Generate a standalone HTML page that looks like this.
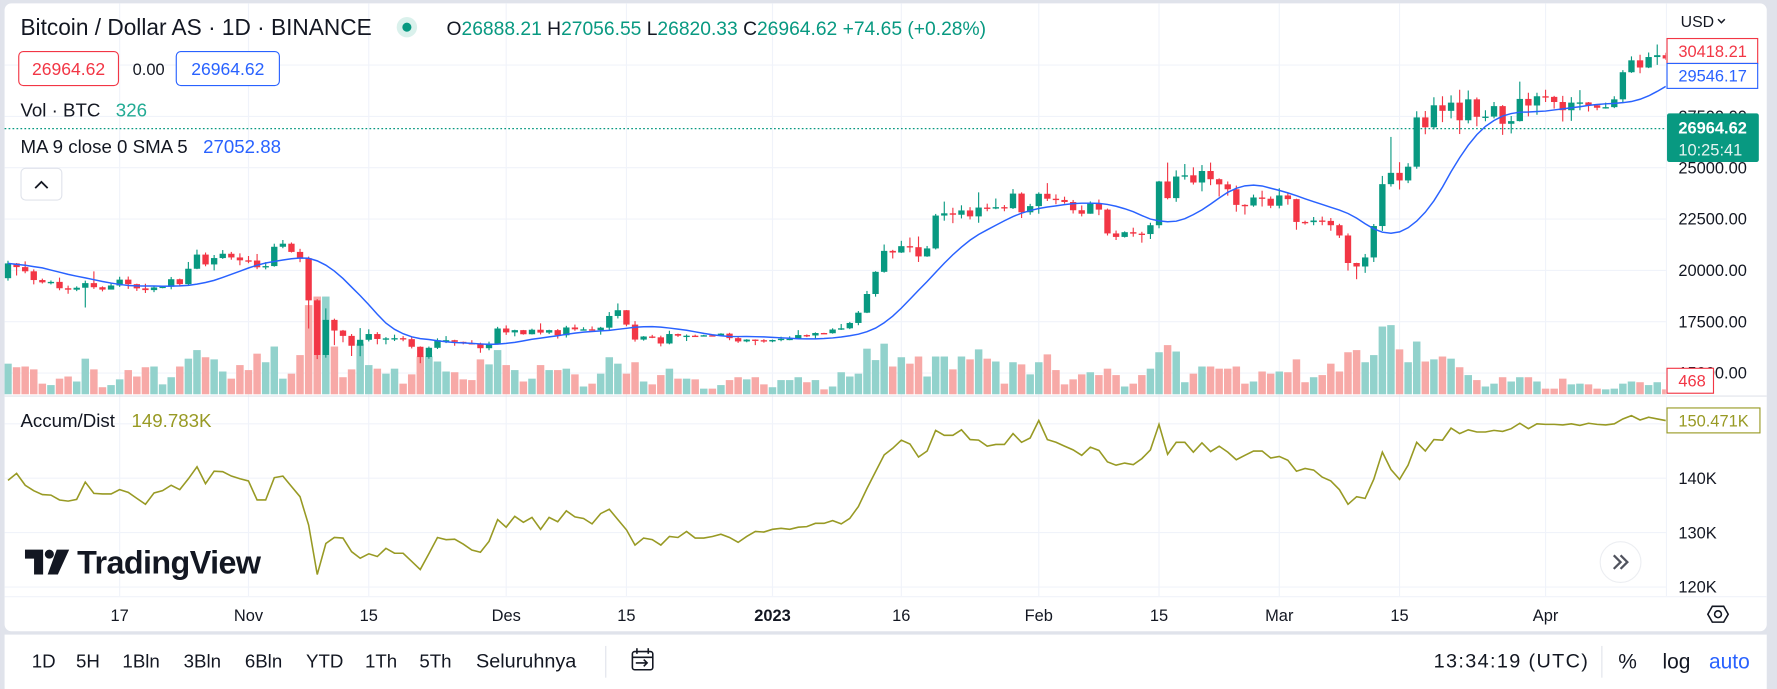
<!DOCTYPE html>
<html><head><meta charset="utf-8">
<style>
html,body{margin:0;padding:0;background:#e0e3eb;overflow:hidden}
svg{display:block}
text{font-family:"Liberation Sans",sans-serif}
</style></head>
<body>
<svg id="chart" width="1777" height="689" viewBox="0 0 1568 608" xmlns="http://www.w3.org/2000/svg">
<rect x="0" y="0" width="1568" height="608" fill="#e0e3eb"/>
<rect x="4" y="3" width="1555" height="554" rx="6" fill="#ffffff"/>
<rect x="4" y="560" width="1555" height="48" fill="#ffffff"/>
<g id="grid"></g>
<g id="volumes"></g>
<g id="candles"></g>
<g id="maline"></g>
<g id="adline"></g>
<line x1="4" y1="349.5" x2="1559" y2="349.5" stroke="#e0e3eb" stroke-width="1"/>
<line x1="1470.5" y1="3" x2="1470.5" y2="526" stroke="#f0f3fa" stroke-width="1"/>
<line x1="4" y1="526.5" x2="1559" y2="526.5" stroke="#f0f3fa" stroke-width="1"/>
<line x1="4" y1="113.5" x2="1470" y2="113.5" stroke="#089981" stroke-width="1" stroke-dasharray="1.5,2"/>
<g id="yaxis"></g>
<g id="adaxis"></g>
<g id="xaxis"></g>

<!-- header -->
<text x="18" y="31" font-size="20" fill="#131722">Bitcoin / Dollar AS · 1D · BINANCE</text>
<circle cx="359" cy="24" r="9" fill="#daf1ec"/>
<circle cx="359" cy="24" r="4" fill="#089981"/>
<text x="394" y="31" font-size="17" fill="#131722">O<tspan fill="#089981">26888.21</tspan> H<tspan fill="#089981">27056.55</tspan> L<tspan fill="#089981">26820.33</tspan> C<tspan fill="#089981">26964.62 +74.65 (+0.28%)</tspan></text>
<rect x="16.5" y="45.5" width="88" height="30" rx="4" fill="#fff" stroke="#f23645"/>
<text x="60.5" y="66" font-size="15.5" fill="#f23645" text-anchor="middle">26964.62</text>
<text x="117" y="66" font-size="14.5" fill="#131722">0.00</text>
<rect x="155.5" y="45.5" width="91" height="30" rx="4" fill="#fff" stroke="#2962ff"/>
<text x="201" y="66" font-size="15.5" fill="#2962ff" text-anchor="middle">26964.62</text>
<text x="18" y="103" font-size="16.5" fill="#131722">Vol · BTC <tspan dx="9" fill="#22ab94">326</tspan></text>
<text x="18" y="135" font-size="16.5" fill="#131722">MA 9 close 0 SMA 5 <tspan dx="9" fill="#2962ff">27052.88</tspan></text>
<rect x="18.5" y="148.5" width="36" height="28" rx="4" fill="#fff" stroke="#e0e3eb"/>
<path d="M31 166 L36.5 160.5 L42 166" fill="none" stroke="#131722" stroke-width="1.6"/>
<text x="18" y="377" font-size="16.5" fill="#131722">Accum/Dist <tspan dx="10" fill="#989a24">149.783K</tspan></text>

<!-- logo -->
<g>
<path d="M22 485 H38 V507 H30 V493 H22 Z" fill="#131722"/>
<circle cx="43.5" cy="489" r="4" fill="#131722"/>
<path d="M50 485 H61 L51 507 H42 Z" fill="#131722"/>
<text x="68" y="506" font-size="28.5" font-weight="bold" fill="#131722" letter-spacing="-0.5">TradingView</text>
</g>

<!-- right axis widgets -->
<text x="1483" y="24" font-size="14" fill="#131722">USD</text>
<path d="M1516 17 L1519 20 L1522 17" fill="none" stroke="#131722" stroke-width="1.3"/>
<rect x="1471" y="34" width="80" height="22" fill="#fff" stroke="#f23645"/>
<text x="1481" y="50.5" font-size="14.5" fill="#f23645">30418.21</text>
<rect x="1471" y="56" width="80" height="22" fill="#fff" stroke="#2962ff"/>
<text x="1481" y="72" font-size="14.5" fill="#2962ff">29546.17</text>
<rect x="1471" y="100" width="81" height="43" rx="2" fill="#089981"/>
<text x="1481" y="118" font-size="14.5" font-weight="bold" fill="#fff">26964.62</text>
<text x="1481" y="137" font-size="14.5" fill="#e6f4f1">10:25:41</text>
<rect x="1471" y="325" width="41" height="22" fill="#fff" stroke="#f23645"/>
<text x="1481" y="341" font-size="14.5" fill="#f23645">468</text>
<rect x="1471" y="360" width="82" height="22" fill="#fff" stroke="#989a24"/>
<text x="1481" y="376.5" font-size="14.5" fill="#989a24">150.471K</text>
<g>
<circle cx="1430" cy="496" r="18" fill="#fff" stroke="#eceef2"/>
<path d="M1424 490 L1430 496 L1424 502 M1430 490 L1436 496 L1430 502" fill="none" stroke="#50535e" stroke-width="2"/>
</g>
<g>
<path d="M1507 542 L1511 535 H1521 L1525 542 L1521 549 H1511 Z" fill="none" stroke="#131722" stroke-width="1.4"/>
<circle cx="1516" cy="542" r="3" fill="none" stroke="#131722" stroke-width="1.4"/>
</g>

<!-- bottom toolbar -->
<g font-size="16.5" fill="#131722">
<text x="28" y="589">1D</text>
<text x="67" y="589">5H</text>
<text x="108" y="589">1Bln</text>
<text x="162" y="589">3Bln</text>
<text x="216" y="589">6Bln</text>
<text x="270" y="589">YTD</text>
<text x="322" y="589">1Th</text>
<text x="370" y="589">5Th</text>
<text x="420" y="589" font-size="17.5">Seluruhnya</text>
<text x="1265" y="589" font-size="17.5" letter-spacing="1.2">13:34:19 (UTC)</text>
<text x="1428" y="590" font-size="18.5">%</text>
<text x="1467" y="590" font-size="18.5">log</text>
<text x="1508" y="590" font-size="18.5" fill="#2962ff">auto</text>
</g>
<line x1="534.5" y1="570" x2="534.5" y2="598" stroke="#e0e3eb"/>
<line x1="1413.5" y1="570" x2="1413.5" y2="598" stroke="#e0e3eb"/>
<g fill="none" stroke="#131722" stroke-width="1.4">
<rect x="558" y="575" width="18" height="16" rx="2"/>
<line x1="558" y1="580" x2="576" y2="580"/>
<line x1="562" y1="572" x2="562" y2="577"/><line x1="572" y1="572" x2="572" y2="577"/>
<path d="M561 585 H571 M568 582 L571 585 L568 588"/>
</g>
</svg>
<script>
const startOpen = 19620;
const closes = [20340,20160,19955,19530,19417,19440,19130,19060,19155,19380,19180,19065,19265,19550,19330,19125,19040,19170,19205,19570,19330,20080,20770,20290,20600,20810,20630,20490,
20480,20150,20210,21150,21300,20900,20590,18540,15880,17590,17070,16810,16330,16620,16900,16660,16690,16700,16650,16280,15780,16230,16600,16600,16520,16460,16430,16210,16440,17170,
16980,17090,16890,17110,16970,17090,16840,17220,17130,17130,17090,17210,17780,18060,17360,16630,16780,16740,16440,16900,16820,16820,16780,16840,16830,16920,16700,16540,16630,16600,16540,
16610,16670,16670,16850,16830,16950,16940,17120,17180,17440,17940,18850,19930,20950,20870,21180,21130,20680,21070,22670,22780,22710,22920,22630,23060,23010,23080,23030,23740,22830,23130,
23730,23490,23430,23330,22930,22760,23250,22960,21800,21630,21860,21790,21770,22200,24330,23520,24570,24630,24280,24840,24440,24190,23950,23190,23160,23550,23490,23150,
23650,23470,22360,22350,22430,22410,22200,21700,20360,20190,20630,22160,24200,24750,24380,25050,27450,26970,28040,27770,28170,27310,28330,27480,27490,28000,27140,27270,28350,28030,28480,
28450,28200,27800,28170,28180,28040,27920,27950,28330,29650,30230,29880,30390,30480,30320];
const highs = [20470,20360,20440,20050,19600,19510,19650,19260,19220,19500,19950,19220,19360,19690,19700,19350,19350,19250,19240,19680,19600,20410,21010,20870,20750,20990,20900,20830,
20700,20800,20400,21300,21480,21360,21050,20670,18600,18150,17650,17100,16900,17190,17130,16990,16750,16870,16800,16750,16300,16290,16690,16800,16620,16530,16600,16480,16530,17250,
17320,17110,17100,17160,17420,17110,17140,17300,17360,17230,17270,17250,17970,18390,18070,17530,16800,16860,16820,17060,16920,16880,16870,16860,16870,16940,16960,16780,16650,16640,16650,
16630,16770,16790,17090,16880,16980,16960,17180,17390,17490,18020,19000,19960,21260,21000,21440,21600,21650,21190,22750,23350,23050,23170,23080,23800,23250,23500,23180,23960,23800,23240,
23800,24250,23700,23590,23430,23160,23360,23450,23010,21940,21900,22080,21880,22320,24360,25250,24870,25180,25020,25130,25250,24480,24330,24130,23220,23690,23880,23600,
24000,23780,23490,22420,22600,22620,22550,22270,21800,20370,20800,22260,24600,26500,25270,25220,27750,27760,28430,28480,28520,28800,28760,28420,27800,28200,28050,27520,29190,28650,28650,
28800,28500,28500,28440,28780,28200,28100,28170,28480,29750,30420,30500,30610,31000,30600];
const lows = [19500,19750,19860,19320,19360,19320,19030,18860,18990,18190,19100,18980,19070,19200,19100,19000,18900,18940,19130,19080,19250,19250,20060,20200,20000,20560,20520,20250,
20350,20060,20050,20180,21080,20870,20400,17170,15680,15750,16360,16500,15830,15820,16540,16400,16400,16560,16550,16200,15480,15700,16170,16460,16330,16400,16400,15990,16110,16430,
16860,16790,16870,16880,16880,16900,16680,16730,17060,17080,17070,16870,17080,17660,17280,16530,16580,16700,16300,16400,16760,16560,16760,16780,16800,16800,16600,16470,16500,16360,16480,
16500,16550,16600,16660,16750,16670,16910,16920,17100,17140,17330,17920,18720,19890,20580,20850,20880,20410,20660,21020,22420,22300,22530,22480,22320,22880,22980,22880,22990,22550,22710,
22760,23380,23220,23250,22770,22630,22760,22690,21700,21480,21600,21640,21350,21530,22050,23460,23340,24420,24180,23850,24150,23600,23640,22860,22720,23100,23110,23030,
23020,23200,21980,22230,22200,22200,21930,21580,19990,19570,19880,20410,21920,24080,23940,24250,24950,26630,26870,27220,27400,26640,27160,27020,27260,27400,26600,26670,27250,27500,27580,
28200,27880,27250,27280,27800,27740,27800,27880,27900,28180,29620,29600,29850,30010,30250];
const volumes = [43,38,39,35,15,13,22,25,18,50,35,10,13,21,34,25,38,39,14,24,39,50,62,52,49,32,22,41,34,57,45,67,22,29,55,125,137,137,67,24,35,71,41,36,29,36,15,28,53,53,46,32,31,21,20,49,42,62,41,34,18,22,41,34,34,36,28,11,15,29,52,43,29,45,18,14,27,36,22,22,21,8,8,13,20,24,21,24,14,10,20,20,24,17,20,7,11,31,25,29,64,48,71,39,52,43,53,25,53,53,35,53,49,63,50,46,15,45,42,28,45,56,34,14,21,28,31,27,36,27,11,15,27,36,59,69,60,17,29,39,39,36,36,39,15,18,32,29,32,31,49,17,24,27,43,32,59,62,45,55,95,97,63,45,74,46,49,53,50,38,27,20,11,15,24,18,24,24,18,8,8,22,14,15,14,8,7,8,15,18,17,13,17,7];
const adValues = [139.6,140.9,138.7,137.7,137.0,136.9,136.0,135.8,136.1,139.3,137.2,137.1,137.1,137.9,137.4,136.3,135.2,137.3,137.7,138.7,137.9,139.9,142.1,139.0,141.3,141.2,140.4,139.9,139.5,136.0,136.0,140.1,140.4,138.5,136.6,131.4,122.3,128.0,129.1,129.0,126.5,125.3,126.1,125.6,127.1,126.2,126.2,124.7,123.2,126.1,129.1,128.7,128.8,127.9,126.8,126.4,128.4,132.4,131.0,133.0,131.9,132.8,130.6,132.8,132.0,134.0,132.9,132.6,131.6,133.5,134.3,132.4,130.5,127.7,129.0,128.7,127.7,129.3,129.1,130.2,129.0,129.0,129.3,129.7,129.1,128.2,129.3,130.2,130.1,130.6,130.8,130.6,131.0,131.1,131.7,131.7,132.2,131.6,
132.6,134.8,138.1,141.2,144.3,145.5,147.0,146.3,143.9,145.0,148.8,147.9,147.9,148.9,147.1,147.0,145.9,146.2,146.2,148.2,146.6,147.4,150.6,147.1,146.6,145.9,145.2,144.2,145.7,145.1,143.0,142.4,142.8,142.5,143.6,145.2,149.9,144.4,146.6,146.6,144.8,146.5,144.9,145.9,144.8,143.4,144.2,145.0,145.0,143.7,144.0,143.3,141.3,141.8,141.5,140.2,139.5,137.9,135.2,136.6,136.3,139.8,144.8,141.6,139.8,142.4,146.6,145.0,147.1,147.0,149.2,148.2,148.9,148.5,148.5,148.8,148.6,149.1,150.1,149.1,150.0,149.9,149.9,149.8,150.0,149.7,150.1,149.9,149.8,150.0,150.9,151.5,150.7,151.2,150.9,150.6];
const priceTicks = [15000,17500,20000,22500,25000,27500];
const adTicks = [120,130,140];
const timeLabels = ["17","Nov","15","Des","15","2023","16","Feb","15","Mar","15","Apr"];
const timeLabelIdx = [13,28,42,58,72,89,104,120,134,148,162,179];

const NS = "http://www.w3.org/2000/svg";
function xOf(i){ return 7 + 7.58*i; }
function yPrice(p){ return 148 - (p-25000)*45.3/2500; }
function yAD(v){ return 422 - (v-140)*4.8; }
function yVol(v){ return 348 - v*0.63; }
function mk(tag, attrs, parent){ const e=document.createElementNS(NS,tag); for(const k in attrs) e.setAttribute(k,attrs[k]); parent.appendChild(e); return e; }
const grid=document.getElementById('grid'), vg=document.getElementById('volumes'), cg=document.getElementById('candles');
const ma=document.getElementById('maline'), adg=document.getElementById('adline');
const ya=document.getElementById('yaxis'), ada=document.getElementById('adaxis'), xa=document.getElementById('xaxis');
const XMAX = 1470;

[30000].concat(priceTicks).forEach(p=>{
  const l=mk('line',{x1:4,x2:XMAX,y1:yPrice(p),y2:yPrice(p),stroke:'#f0f3fa'},grid);
  
  
});
priceTicks.forEach(p=>{
  const t=mk('text',{x:1481,y:yPrice(p)+5,'font-size':14.5,fill:'#131722'},ya);
  
  
  t.textContent=p.toFixed(2);
});
[150].concat(adTicks).forEach(v=>{
  const l=mk('line',{x1:4,x2:XMAX,y1:yAD(v),y2:yAD(v),stroke:'#f0f3fa'},grid);
  
  
});
adTicks.forEach(v=>{
  const t=mk('text',{x:1481,y:Math.min(yAD(v)+5,524),'font-size':14.5,fill:'#131722'},ada);
  
  
  t.textContent=v+'K';
});
timeLabels.forEach((s,k)=>{
  const x=xOf(timeLabelIdx[k]);
  const l=mk('line',{x1:x,x2:x,y1:3,y2:526,stroke:'#f0f3fa'},grid);
  
  
  const t=mk('text',{x:x,y:548,'font-size':14.5,fill:'#131722','text-anchor':'middle','font-weight':s==='2023'?'bold':'normal'},xa);
  
  
  t.textContent=s;
});

for(let i=0;i<closes.length;i++){
  const o = i===0 ? startOpen : closes[i-1];
  const c = closes[i];
  const up = c>=o;
  const x = xOf(i);
  if(x>XMAX+1) continue;
  const vb=mk('rect',{x:x-3.3,y:yVol(volumes[i]),width:6.6,height:348-yVol(volumes[i]),fill:up?'#92d2cc':'#f7a9a7'},vg);
  
  
  const col = up?'#089981':'#f23645';
  const w=mk('line',{x1:x,x2:x,y1:yPrice(highs[i]),y2:yPrice(lows[i]),stroke:col,'stroke-width':1},cg);
  
  
  const top=yPrice(Math.max(o,c)), bot=yPrice(Math.min(o,c));
  const b=mk('rect',{x:x-2.8,y:top,width:5.6,height:Math.max(1.2,bot-top),fill:col},cg);
  
  
}
const sma9 = closes.map((_,i)=>{ const s=closes.slice(Math.max(0,i-8),i+1); return s.reduce((a,b)=>a+b,0)/s.length; });
const sma5 = sma9.map((_,i)=>{ const s=sma9.slice(Math.max(0,i-4),i+1); return s.reduce((a,b)=>a+b,0)/s.length; });
let d='';
sma5.forEach((v,i)=>{ d+=(i?'L':'M')+xOf(i).toFixed(1)+' '+yPrice(v).toFixed(1); });
const mp=mk('path',{d:d,fill:'none',stroke:'#2962ff','stroke-width':1.3},ma);


let d2='';
adValues.forEach((v,i)=>{ d2+=(i?'L':'M')+xOf(i).toFixed(1)+' '+yAD(v).toFixed(1); });
const ap=mk('path',{d:d2,fill:'none',stroke:'#989a24','stroke-width':1.4},adg);


const defs=mk('defs',{},document.getElementById('chart'));
const cp=mk('clipPath',{id:'plotclip'},defs);
mk('rect',{x:4,y:3,width:XMAX-4,height:345},cp);
const cp2=mk('clipPath',{id:'adclip'},defs);
mk('rect',{x:4,y:350,width:XMAX-4,height:176},cp2);
[vg,cg,ma].forEach(g=>g.setAttribute('clip-path','url(#plotclip)'));
adg.setAttribute('clip-path','url(#adclip)');
</script>
</body></html>
